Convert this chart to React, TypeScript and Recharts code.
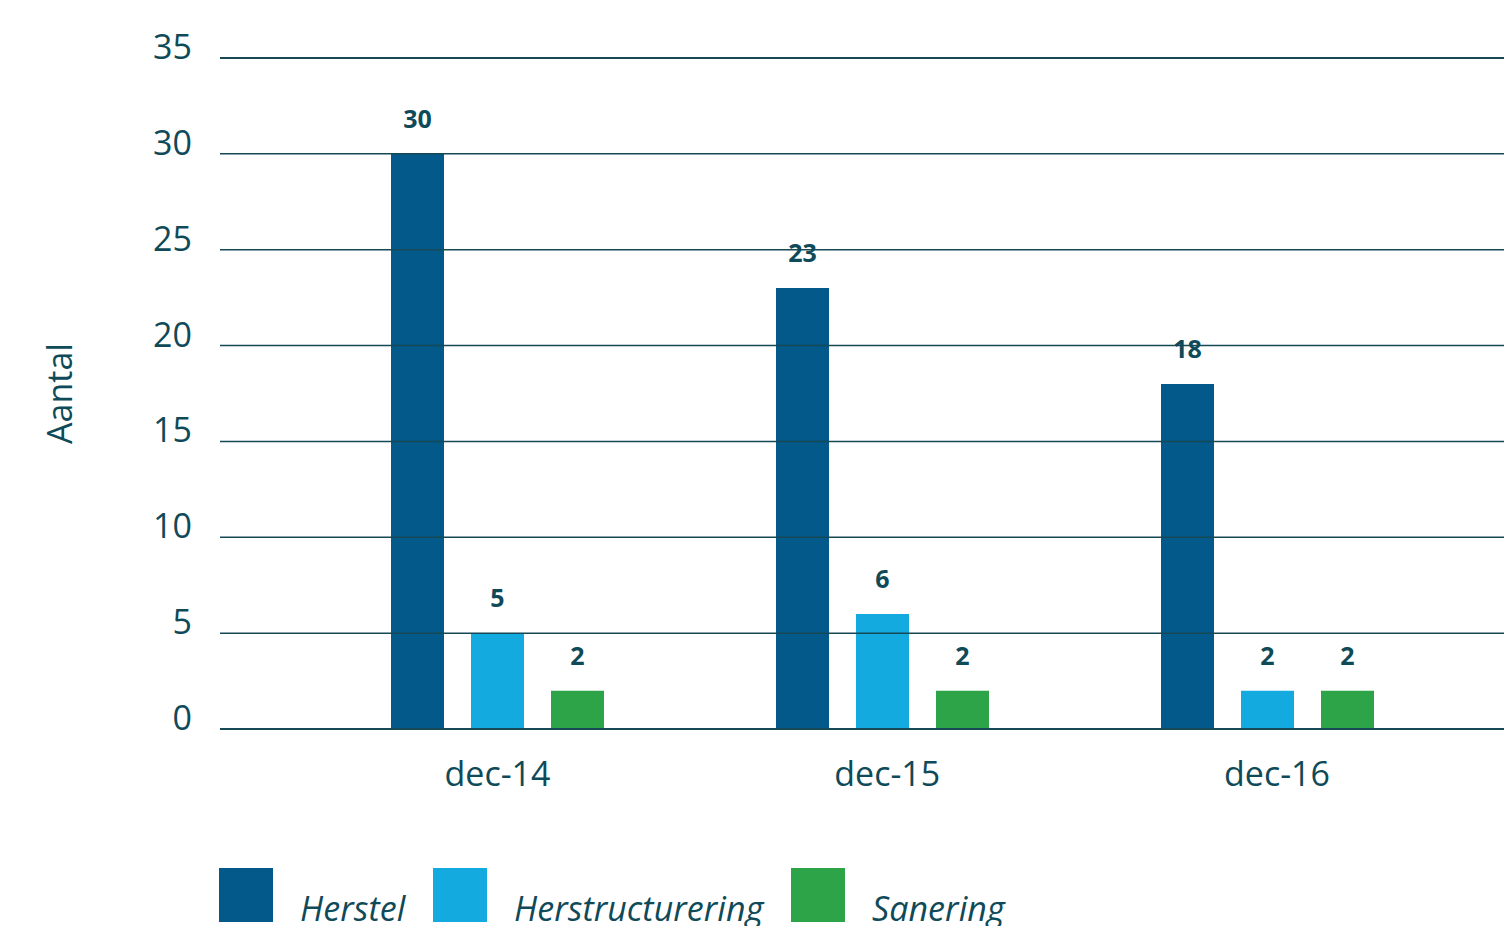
import React from "react";
import {
  BarChart,
  Bar,
  XAxis,
  YAxis,
  ReferenceLine,
  LabelList,
} from "recharts";

const categories = ["dec-14", "dec-15", "dec-16"];
const herstel = [30, 23, 18];
const herstructurering = [5, 6, 2];
const sanering = [2, 2, 2];
const yTicks = [0, 5, 10, 15, 20, 25, 30, 35];

const seriesNames = ["Herstel", "Herstructurering", "Sanering"];
const seriesKeys = ["herstel", "herstructurering", "sanering"];
const seriesColors = ["#02598A", "#13AADF", "#2EA448"];

const TEXT = "#0F4A59";
const GRID = "#174856";
const FONT = "'Open Sans', sans-serif";

const data = categories.map((c, i) => ({
  name: c,
  herstel: herstel[i],
  herstructurering: herstructurering[i],
  sanering: sanering[i],
}));

// category labels sit a touch wider apart than the bar groups
const XTick = (props: any) => {
  const { x, y, payload, index } = props;
  return (
    <text x={x + (index || 0) * 4.75} y={y + 57} textAnchor="middle" fill={TEXT} fontSize={34} fontFamily={FONT}>
      {payload.value}
    </text>
  );
};

const YTick = (props: any) => {
  const { x, y, payload } = props;
  return (
    <text x={x - 28} y={y + 1} textAnchor="end" fill={TEXT} fontSize={34} fontFamily={FONT}>
      {payload.value}
    </text>
  );
};

const YLabel = (props: any) => {
  const vb = props.viewBox || { x: 0, y: 58, height: 671 };
  const cx = 72;
  const cy = vb.y + vb.height / 2;
  return (
    <text
      x={cx}
      y={cy}
      transform={`rotate(-90, ${cx}, ${cy})`}
      textAnchor="middle"
      fill={TEXT}
      fontSize={34}
      fontFamily={FONT}
    >
      Aantal
    </text>
  );
};

export default function App() {
  return (
    <div style={{ position: "absolute", left: 0, top: 0, width: 1504, height: 926, overflow: "hidden", background: "#fff" }}>
      <BarChart
        width={1504}
        height={926}
        data={data}
        margin={{ top: 58, right: 0, left: 0, bottom: 0 }}
        barSize={53}
        barGap={27}
      >
        <XAxis
          dataKey="name"
          height={197}
          axisLine={false}
          tickLine={false}
          tickSize={0}
          tickMargin={0}
          padding={{ left: 85, right: 44 }}
          tick={<XTick />}
        />
        <YAxis
          width={220}
          domain={[0, 35]}
          ticks={yTicks}
          axisLine={false}
          tickLine={false}
          tickSize={0}
          tickMargin={0}
          tick={<YTick />}
          label={<YLabel />}
        />
        {seriesKeys.map((k, i) => (
          <Bar key={k} dataKey={k} name={seriesNames[i]} fill={seriesColors[i]} isAnimationActive={false}>
            <LabelList
              dataKey={k}
              position="top"
              offset={26}
              fill={TEXT}
              fontSize={25}
              fontWeight={700}
              fontFamily={FONT}
            />
          </Bar>
        ))}
        {yTicks.map((t) => (
          <ReferenceLine key={t} y={t} stroke={GRID} strokeWidth={t === 35 || t === 0 ? 2 : 1.5} />
        ))}
      </BarChart>
      <div
        style={{
          position: "absolute",
          left: 219,
          top: 868,
          display: "flex",
          alignItems: "flex-end",
          fontFamily: FONT,
          fontStyle: "italic",
          fontSize: 34,
          lineHeight: "34px",
          color: TEXT,
        }}
      >
        {seriesNames.map((n, i) => (
          <React.Fragment key={n}>
            <div style={{ width: 54, height: 54, background: seriesColors[i], marginRight: 27 }} />
            <span style={{ position: "relative", top: 3, marginRight: 27.5, letterSpacing: 0.08, whiteSpace: "nowrap" }}>{n}</span>
          </React.Fragment>
        ))}
      </div>
    </div>
  );
}
